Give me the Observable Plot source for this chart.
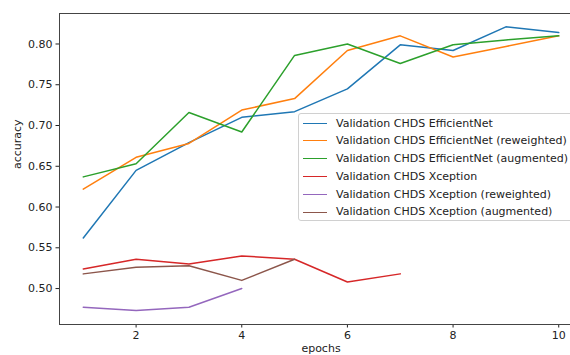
<!DOCTYPE html>
<html>
<head>
<meta charset="utf-8">
<script src="https://cdn.jsdelivr.net/npm/d3@7"></script>
<script src="https://cdn.jsdelivr.net/npm/@observablehq/plot@0.6"></script>
<style>
  html, body { margin: 0; padding: 0; background: #fff; overflow: hidden; width: 570px; height: 355px; }
  #wrap { position: relative; width: 600px; height: 355px; font-family: "DejaVu Sans", sans-serif; }
  #legend { position: absolute; left: 298px; top: 113px; width: 290px; height: 108px;
    border: 1px solid #d0d0d0; border-radius: 3px; background: rgba(255,255,255,0.85);
    box-sizing: border-box; padding-top: 0.5px; font-size: 11px; color: #222; }
  .row { position: relative; height: 17.8px; line-height: 17.8px; white-space: nowrap; }
  .sw { position: absolute; left: 4px; top: 8.2px; width: 24px; height: 0; border-top: 1.5px solid; }
  .lab { position: absolute; left: 37px; top: 0; }
</style>
</head>
<body>
<div id="wrap"><div id="chart"></div><div id="legend"></div></div>
<script>
const epochs = [1, 2, 3, 4, 5, 6, 7, 8, 9, 10];
const seriesNames = [
  "Validation CHDS EfficientNet",
  "Validation CHDS EfficientNet (reweighted)",
  "Validation CHDS EfficientNet (augmented)",
  "Validation CHDS Xception",
  "Validation CHDS Xception (reweighted)",
  "Validation CHDS Xception (augmented)"
];
const colors = ["#1f77b4", "#ff7f0e", "#2ca02c", "#d62728", "#9467bd", "#8c564b"];

const effNet            = [0.562, 0.645, 0.679, 0.710, 0.717, 0.745, 0.799, 0.792, 0.821, 0.814];
const effNetReweighted  = [0.622, 0.661, 0.678, 0.719, 0.733, 0.792, 0.810, 0.784, 0.797, 0.810];
const effNetAugmented   = [0.637, 0.653, 0.716, 0.692, 0.786, 0.800, 0.776, 0.799, 0.805, 0.810];
const xception          = [0.524, 0.536, 0.530, 0.540, 0.536, 0.508, 0.518];
const xceptionReweighted = [0.477, 0.473, 0.477, 0.500];
const xceptionAugmented = [0.518, 0.526, 0.528, 0.510, 0.536];

const yTicks = [0.50, 0.55, 0.60, 0.65, 0.70, 0.75, 0.80];
const xTicks = [2, 4, 6, 8, 10];

const allSeries = [effNet, effNetReweighted, effNetAugmented, xception, xceptionReweighted, xceptionAugmented];
const data = allSeries.flatMap((vals, i) =>
  vals.map((v, j) => ({ epoch: epochs[j], acc: v, series: seriesNames[i] }))
);

const chart = Plot.plot({
  width: 600,
  height: 355,
  marginLeft: 59,
  marginRight: 18,
  marginTop: 13,
  marginBottom: 31,
  style: { fontFamily: "DejaVu Sans, sans-serif", fontSize: "11px", color: "#222", background: "#fff" },
  x: { domain: [0.55, 10.45], ticks: xTicks, tickSize: 3.5, tickPadding: 3, label: null, tickFormat: d3.format("d") },
  y: { domain: [0.4559, 0.8374], ticks: yTicks, tickSize: 3.5, tickPadding: 3.5, label: null, tickFormat: d3.format(".2f") },
  color: { domain: seriesNames, range: colors },
  marks: [
    Plot.line(data, { x: "epoch", y: "acc", stroke: "series", z: "series", strokeWidth: 1.5 }),
    Plot.frame({ stroke: "#444", strokeWidth: 1 }),
    Plot.text(["epochs"], { frameAnchor: "bottom", lineAnchor: "top", dy: 20, fontSize: 11, fill: "#222" }),
    Plot.text(["accuracy"], { frameAnchor: "left", rotate: -90, dx: -42, fontSize: 11, fill: "#222" })
  ]
});
document.getElementById("chart").appendChild(chart);

const legend = document.getElementById("legend");
seriesNames.forEach((name, i) => {
  const row = document.createElement("div");
  row.className = "row";
  const sw = document.createElement("span");
  sw.className = "sw";
  sw.style.borderTopColor = colors[i];
  const lab = document.createElement("span");
  lab.className = "lab";
  lab.textContent = name;
  row.appendChild(sw);
  row.appendChild(lab);
  legend.appendChild(row);
});
</script>
</body>
</html>
